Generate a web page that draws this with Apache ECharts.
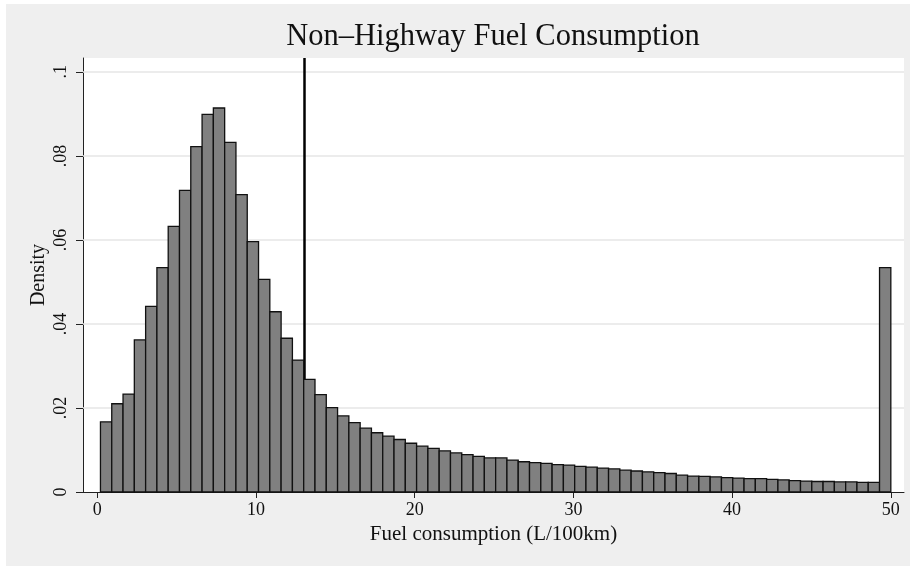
<!DOCTYPE html>
<html>
<head>
<meta charset="utf-8">
<script src="https://cdn.jsdelivr.net/npm/echarts@6/dist/echarts.min.js"></script>
<style>
html,body{margin:0;padding:0;background:#fff;}
#chart{width:910px;height:566px;}
</style>
</head>
<body>
<div id="chart"></div>
<script>
// ---- data ----
const titleText = 'Non\u2013Highway Fuel Consumption';
const xTitle = 'Fuel consumption (L/100km)';
const yTitle = 'Density';
const binStart = 0.2;
const binEnd = 50;
const density = [
  0.0167, 0.0210, 0.0233, 0.0362, 0.0442, 0.0534, 0.0632, 0.0718, 0.0822, 0.0899,
  0.0914, 0.0832, 0.0708, 0.0596, 0.0506, 0.0429, 0.0366, 0.0314, 0.0268, 0.0232,
  0.0201, 0.0181, 0.0165, 0.0152, 0.0141, 0.0133, 0.0125, 0.0116, 0.0109, 0.0104,
  0.0098, 0.0093, 0.0089, 0.0085, 0.0081, 0.0081, 0.0076, 0.0072, 0.0070, 0.0068,
  0.0065, 0.0064, 0.0061, 0.0059, 0.0057, 0.0055, 0.0052, 0.0050, 0.0048, 0.0046,
  0.0044, 0.0040, 0.0038, 0.0037, 0.0036, 0.0034, 0.0033, 0.0032, 0.0032, 0.0030,
  0.0029, 0.0027, 0.0026, 0.0025, 0.0025, 0.0024, 0.0024, 0.0023, 0.0023, 0.0534
];
const xTicks = [0, 10, 20, 30, 40, 50];
const yTicks = [0, 0.02, 0.04, 0.06, 0.08, 0.1];
const refLine = 13.07;

// ---- build ----
const binWidth = (binEnd - binStart) / density.length;
const bins = density.map((d, i) => [binStart + i * binWidth, binStart + (i + 1) * binWidth, d]);
const fontFam = '"Liberation Serif", "DejaVu Serif", serif';
const fmtY = v => v === 0 ? '0' : String(+v.toFixed(4)).replace(/^0\./, '.');

const chart = echarts.init(document.getElementById('chart'));
chart.setOption({
  animation: false,
  backgroundColor: '#ffffff',
  graphic: [{
    type: 'rect', z: -10, silent: true,
    shape: { x: 6, y: 4, width: 904, height: 562 },
    style: { fill: '#efefef' }
  }, {
    type: 'text', z: 10, silent: true, x: 493, y: 21,
    style: {
      text: titleText, align: 'center', verticalAlign: 'top',
      font: 'normal 30.5px ' + fontFam, fill: '#111'
    }
  }],
  grid: {
    left: 83, right: 6, top: 58, bottom: 74,
    show: true, backgroundColor: '#ffffff', borderWidth: 0
  },
  xAxis: {
    type: 'value', min: -0.9, max: 50.83,
    name: xTitle, nameLocation: 'middle', nameGap: 29,
    nameTextStyle: { fontFamily: fontFam, fontSize: 21, color: '#111' },
    axisLine: { show: true, onZero: false, lineStyle: { color: '#222', width: 1 } },
    axisTick: { show: true, length: 6, customValues: xTicks, lineStyle: { color: '#222' } },
    axisLabel: { customValues: xTicks, margin: 9, fontFamily: fontFam, fontSize: 18, color: '#111' },
    splitLine: { show: false }
  },
  yAxis: {
    type: 'value', min: 0, max: 0.1033,
    name: yTitle, nameLocation: 'middle', nameGap: 34, nameRotate: 90, nameMoveOverlap: false,
    nameTextStyle: { fontFamily: fontFam, fontSize: 20, color: '#111' },
    axisLine: { show: true, onZero: false, lineStyle: { color: '#222', width: 1 } },
    axisTick: { show: true, length: 7, customValues: yTicks, lineStyle: { color: '#222' } },
    axisLabel: { customValues: yTicks, rotate: 90, margin: 13, fontFamily: fontFam, fontSize: 18, color: '#111',
      formatter: fmtY },
    splitLine: { show: false }
  },
  series: [
    {
      type: 'line', data: [], z: 1, silent: true,
      markLine: {
        silent: true, symbol: 'none', label: { show: false },
        lineStyle: { color: '#e6e6e6', width: 1.5, type: 'solid' },
        data: yTicks.filter(v => v > 0).map(v => ({ yAxis: v }))
      }
    },
    {
      type: 'line', data: [], z: 2, silent: true,
      markLine: {
        silent: true, symbol: 'none', label: { show: false },
        lineStyle: { color: '#000', width: 2.5, type: 'solid' },
        data: [{ xAxis: refLine }]
      }
    },
    {
      type: 'custom', z: 5, data: bins,
      renderItem: function (params, api) {
        const p0 = api.coord([api.value(0), api.value(2)]);
        const p1 = api.coord([api.value(1), 0]);
        return {
          type: 'rect',
          shape: { x: p0[0], y: p0[1], width: p1[0] - p0[0], height: p1[1] - p0[1] },
          style: { fill: '#808080', stroke: '#111', lineWidth: 1.3 }
        };
      }
    }
  ]
});
</script>
</body>
</html>
